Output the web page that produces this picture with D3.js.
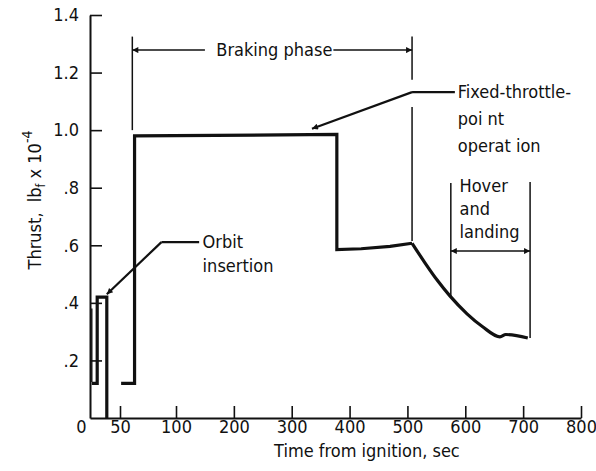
<!DOCTYPE html>
<html>
<head>
<meta charset="utf-8">
<script src="https://cdn.jsdelivr.net/npm/d3@7"></script>
<style>
  body { margin: 0; background: #fff; }
  text { font-family: "Liberation Sans Narrow", "DejaVu Sans Condensed", "Arial Narrow", sans-serif; fill: #111; }
</style>
</head>
<body>
<script>
// Thrust trace (time in sec, thrust in lbf x 10^-4)
var insertionTime   = [3, 12, 12, 28, 28];
var insertionThrust = [0.12, 0.12, 0.42, 0.42, 0];

var brakingTime   = [51, 63, 63, 378, 378, 420, 470, 508];
var brakingThrust = [0.12, 0.12, 0.98, 0.985, 0.585, 0.588, 0.596, 0.607];

var landingTime   = [508, 530, 551, 573, 603, 630, 660, 670, 708];
var landingThrust = [0.607, 0.54, 0.48, 0.425, 0.362, 0.317, 0.282, 0.29, 0.278];

// Tick labels
var timeTicks   = [0, 50, 100, 200, 300, 400, 500, 600, 700, 800];
var thrustTicks = [0.2, 0.4, 0.6, 0.8, 1.0, 1.2, 1.4];

var width = 596;
var height = 471;

// the original axis is stretched between 0 and 100 sec
var x = d3.scaleLinear()
    .domain([0, 50, 100, 800])
    .range([90, 120, 176, 581]);

var y = d3.scaleLinear()
    .domain([0, 1.4])
    .range([418, 15]);

var svg = d3.select("body")
    .append("svg")
    .attr("width", width)
    .attr("height", height);

// arrow heads
var defs = svg.append("defs");
defs.append("marker")
    .attr("id", "arrow")
    .attr("viewBox", "0 0 10 10")
    .attr("refX", 10)
    .attr("refY", 5)
    .attr("markerWidth", 9)
    .attr("markerHeight", 6)
    .attr("markerUnits", "userSpaceOnUse")
    .attr("orient", "auto-start-reverse")
    .append("path")
    .attr("d", "M0,0L10,5L0,10Z")
    .attr("fill", "#111");

//X axis
var xAxis = svg.append("g")
    .attr("transform", "translate(0," + y(0) + ")")
    .call(d3.axisBottom(x)
        .tickValues(timeTicks)
        .tickSizeInner(-12)
        .tickSizeOuter(0)
        .tickPadding(2)
        .tickFormat(function(d) { return d; }));
xAxis.selectAll(".tick").filter(function(d) { return d === 0; })
    .select("line").remove();
xAxis.selectAll(".tick").filter(function(d) { return d === 0; })
    .select("text").attr("x", -9);

//Y axis
var yAxis = svg.append("g")
    .attr("transform", "translate(" + x(0) + ",0)")
    .call(d3.axisLeft(y)
        .tickValues(thrustTicks)
        .tickSizeInner(-12)
        .tickSizeOuter(0)
        .tickPadding(11)
        .tickFormat(function(d) {
            var s = d.toFixed(1);
            return d < 1 ? s.slice(1) : s;
        }));

svg.selectAll(".domain").attr("stroke", "#111").attr("stroke-width", 2);
svg.selectAll(".tick line").attr("stroke", "#111").attr("stroke-width", 1.6);
svg.selectAll(".tick text")
    .style("font-size", "18px")
    .attr("fill", "#111");

// Axis titles
svg.append("text")
    .attr("x", x(430))
    .attr("y", 457)
    .attr("text-anchor", "middle")
    .style("font-size", "18px")
    .text("Time from ignition, sec");

var yTitle = svg.append("text")
    .attr("transform", "translate(41,200) rotate(-90)")
    .attr("text-anchor", "middle")
    .style("font-size", "18px");
yTitle.append("tspan").text("Thrust,\u00a0\u00a0lb");
yTitle.append("tspan").attr("dy", 4).style("font-size", "12px").text("f");
yTitle.append("tspan").attr("dy", -4).text(" x 10");
yTitle.append("tspan").attr("dy", -9).style("font-size", "14px").text("-4");

//Thrust trace
var line = d3.line()
    .x(function(d) { return x(d[0]); })
    .y(function(d) { return y(d[1]); });

var smooth = d3.line()
    .x(function(d) { return x(d[0]); })
    .y(function(d) { return y(d[1]); })
    .curve(d3.curveMonotoneX);

function pairs(t, v) {
    return t.map(function(d, i) { return [d, v[i]]; });
}

var trace = svg.append("g")
    .attr("fill", "none")
    .attr("stroke", "#111")
    .attr("stroke-width", 3.2)
    .attr("stroke-linejoin", "miter");

trace.append("path").attr("d", line(pairs(insertionTime, insertionThrust)));
trace.append("path").attr("d", line(pairs(brakingTime, brakingThrust)));
trace.append("path").attr("d", smooth(pairs(landingTime, landingThrust)));
// thin edge of the insertion burn
trace.append("path")
    .attr("stroke-width", 1.4)
    .attr("d", line([[3, 0.125], [3, 0.38]]));

//Annotations
var note = svg.append("g")
    .attr("fill", "none")
    .attr("stroke", "#111")
    .attr("stroke-width", 1.5);

function seg(t0, v0, t1, v1) {
    return note.append("path").attr("d", line([[t0, v0], [t1, v1]]));
}

// Braking phase span
seg(61, 1.325, 61, 1.0);
seg(508, 1.325, 508, 1.175);
seg(508, 1.08, 508, 0.615);
seg(150, 1.278, 61, 1.278).attr("marker-end", "url(#arrow)");
seg(372, 1.278, 508, 1.278).attr("marker-end", "url(#arrow)");

svg.append("text")
    .attr("x", x(270))
    .attr("y", y(1.278) + 6)
    .attr("text-anchor", "middle")
    .style("font-size", "18px")
    .text("Braking phase");

// Fixed-throttle leader
seg(508, 1.132, 582, 1.132).attr("stroke-width", 2.2);
seg(508, 1.132, 335, 1.005).attr("stroke-width", 2.2).attr("marker-end", "url(#arrow)");

var fixedText = svg.append("text").style("font-size", "18px");
["Fixed-throttle-", "poi nt", "operat ion"].forEach(function(s, i) {
    fixedText.append("tspan")
        .attr("x", x(587))
        .attr("y", 98 + i * 27)
        .text(s);
});

// Orbit insertion leader
seg(87, 0.611, 140, 0.611).attr("stroke-width", 2.2);
seg(87, 0.611, 28, 0.43).attr("stroke-width", 2.2).attr("marker-end", "url(#arrow)");

var orbitText = svg.append("text").style("font-size", "18px");
["Orbit", "insertion"].forEach(function(s, i) {
    orbitText.append("tspan")
        .attr("x", x(146))
        .attr("y", 248 + i * 24)
        .text(s);
});

// Hover and landing span
seg(575, 0.816, 575, 0.42);
seg(712, 0.82, 712, 0.278);
seg(575, 0.58, 712, 0.58)
    .attr("marker-start", "url(#arrow)")
    .attr("marker-end", "url(#arrow)");

var hoverText = svg.append("text").style("font-size", "18px");
["Hover", "and", "landing"].forEach(function(s, i) {
    hoverText.append("tspan")
        .attr("x", x(590))
        .attr("y", 192 + i * 23)
        .text(s);
});
</script>
</body>
</html>
